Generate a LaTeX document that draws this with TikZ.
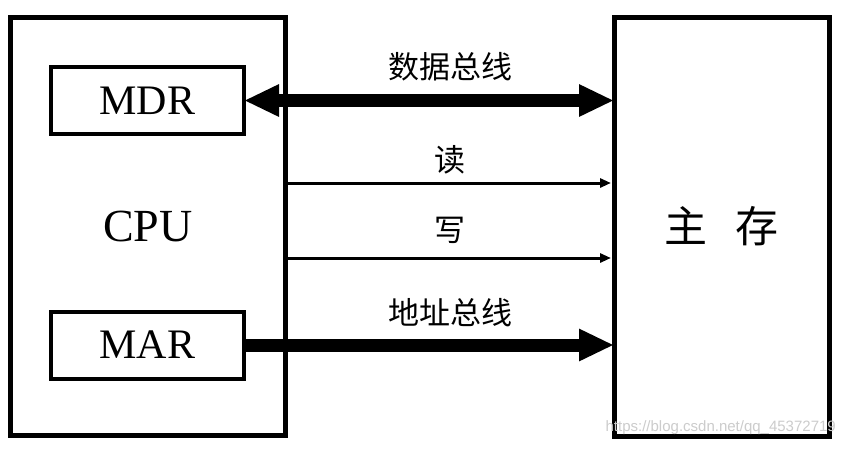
\documentclass[tikz,border=0pt]{standalone}
\usepackage{fontspec}
\setmainfont{Liberation Serif}
\newfontfamily\cjk{Noto Sans CJK SC}
\newfontfamily\wmfont{Liberation Sans}
\usetikzlibrary{arrows.meta}
\begin{document}
\begin{tikzpicture}[x=1pt,y=-1pt,
 box/.style={draw, line width=5pt, inner sep=0pt, outer sep=0pt},
 reg/.style={draw, line width=4pt, inner sep=0pt, outer sep=0pt, minimum width=193pt, minimum height=67pt, font=\fontsize{42}{42}\selectfont},
 bus/.style={line width=13pt},
 sig/.style={line width=3pt, -{Triangle[length=11pt,width=9pt]}},
 lbl/.style={font=\cjk\fontsize{31}{31}\selectfont, inner sep=0pt}]
\useasboundingbox[fill=white] (0,0) rectangle (846,448);
\node[box, minimum width=274.5pt, minimum height=418pt, font=\fontsize{46}{46}\selectfont] (cpu) at (147.75,226) {CPU};
\node[box, minimum width=215pt, minimum height=419pt, font=\cjk\fontsize{43}{43}\selectfont] (mem) at (721.5,226.5) {主\hspace{0.65em}存};
\node[reg] (mdr) at (147.5,100.5) {MDR};
\node[reg] (mar) at (147.5,345) {MAR};
\coordinate (ry) at (0,183);
\coordinate (wy) at (0,258);
\draw[bus, {Triangle[length=35pt,width=30pt]}-{Triangle[length=35pt,width=30pt]}] (mdr.east) -- (mdr.east -| mem.west);
\draw[bus, -{Triangle[length=35pt,width=30pt]}] (mar.east) -- (mar.east -| mem.west);
\draw[sig] (cpu.east |- ry) -- ([xshift=-3pt]mem.west |- ry);
\draw[sig] (cpu.east |- wy) -- ([xshift=-3pt]mem.west |- wy);
\node[lbl] (ldata) at (450,67) {数据总线};
\node[lbl] (lread) at (450,160) {读};
\node[lbl] (lwrite) at (450,230) {写};
\node[lbl] (laddr) at (450,313) {地址总线};
\node[anchor=east, inner sep=0pt, text=gray!40, font=\wmfont\fontsize{15}{15}\selectfont] (wm) at (836,428) {https://blog.csdn.net/qq\_45372719};
\end{tikzpicture}
\end{document}
